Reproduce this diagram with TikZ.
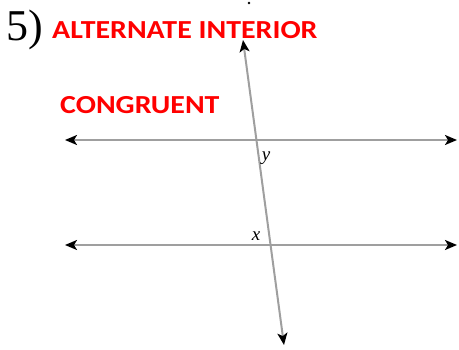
\documentclass[tikz,border=0pt]{standalone}
\usepackage{fontspec}
\setmainfont{Liberation Serif}
\newfontfamily\notefont[FakeStretch=1.15]{Carlito}
\usetikzlibrary{arrows.meta}
\begin{document}
\begin{tikzpicture}[x=1pt,y=-1pt,
    line/.style={gray!75,line width=2pt,{Stealth[black,length=12pt,width=10pt,inset=3pt]}-{Stealth[black,length=12pt,width=10pt,inset=3pt]}},
    note/.style={text=red,font=\notefont\bfseries\fontsize{26}{28}\selectfont,anchor=base west,inner sep=0pt},
    angle/.style={font=\itshape\fontsize{19}{21}\selectfont,inner sep=0pt}]
    \useasboundingbox (0,0) rectangle (459,349);
    \path
    (65,140) coordinate (A)
    (457,140) coordinate (B)
    (65,245) coordinate (C)
    (457,245) coordinate (D)
    (243,40) coordinate (P)
    (284,345) coordinate (Q)
    ;
    \node[anchor=base west,inner sep=0pt,font=\fontsize{44}{46}\selectfont] (num) at (6,40) {5)};
    \node[note] (alt) at (52,38) {ALTERNATE INTERIOR};
    \node[note] (cong) at (60,113) {CONGRUENT};
    \draw[line] (A)--(B);
    \draw[line] (C)--(D);
    \draw[line] (P)--(Q);
    \fill (249,3) circle (1.3pt);
    \node[angle] (y) at (266,158) {y};
    \node[angle] (x) at (256,236) {x};
\end{tikzpicture}
\end{document}
